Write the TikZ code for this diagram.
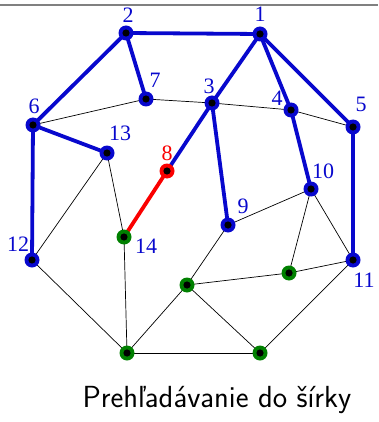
\documentclass[tikz,border=0pt]{standalone}
\usepackage{fontspec}
\newfontfamily\lblfont{Liberation Serif}
\usetikzlibrary{backgrounds}
\definecolor{mblue}{RGB}{8,8,205}
\definecolor{mgreen}{RGB}{0,128,0}
\definecolor{mred}{RGB}{250,0,0}
\begin{document}
\begin{tikzpicture}[x=1pt,y=-1pt,
  vtx/.style={circle,inner sep=0pt,minimum size=15pt,
    path picture={\fill[black] (path picture bounding box.center) circle (3.6pt);}},
  vb/.style={vtx,fill=mblue},
  vg/.style={vtx,fill=mgreen},
  vr/.style={vtx,fill=mred},
  tree/.style={mblue,line width=3.8pt},
  redge/.style={mred,line width=3.8pt},
  thin/.style={black,line width=0.7pt},
  lbl/.style={text=mblue,font=\lblfont\fontsize{22}{22}\selectfont,inner sep=0pt},
]
\useasboundingbox (0,0) rectangle (378,422);
\draw[gray,line width=2pt] (0,5) -- (378,5);

\node[vb] (n1) at (260,34) {};
\node[vb] (n2) at (126,33) {};
\node[vb] (n3) at (212,103) {};
\node[vb] (n4) at (291,110) {};
\node[vb] (n5) at (353,127) {};
\node[vb] (n6) at (33,125) {};
\node[vb] (n7) at (146,99) {};
\node[vr] (n8) at (167,171) {};
\node[vb] (n9) at (228,225) {};
\node[vb] (n10) at (311,189) {};
\node[vb] (n11) at (353,260) {};
\node[vb] (n12) at (32,260) {};
\node[vb] (n13) at (107,153) {};
\node[vg] (n14) at (124,237) {};
\node[vg] (gA) at (289,273) {};
\node[vg] (gB) at (187,285) {};
\node[vg] (gC) at (127,353) {};
\node[vg] (gD) at (260,353) {};

\begin{pgfonlayer}{background}
  \draw[thin] (n6.center) -- (n7.center) -- (n3.center) -- (n4.center) -- (n5.center);
  \draw[thin] (n13.center) -- (n12.center);
  \draw[thin] (n13.center) -- (n14.center);
  \draw[thin] (n14.center) -- (gC.center);
  \draw[thin] (n12.center) -- (gC.center);
  \draw[thin] (n9.center) -- (n10.center);
  \draw[thin] (n9.center) -- (gB.center);
  \draw[thin] (n10.center) -- (gA.center);
  \draw[thin] (n10.center) -- (n11.center);
  \draw[thin] (gA.center) -- (n11.center);
  \draw[thin] (gB.center) -- (gA.center);
  \draw[thin] (gB.center) -- (gC.center);
  \draw[thin] (gB.center) -- (gD.center);
  \draw[thin] (gC.center) -- (gD.center);
  \draw[thin] (gD.center) -- (n11.center);
  \draw[tree] (n2.center) -- (n1.center);
  \draw[tree] (n2.center) -- (n6.center);
  \draw[tree] (n2.center) -- (n7.center);
  \draw[tree] (n1.center) -- (n3.center);
  \draw[tree] (n1.center) -- (n4.center);
  \draw[tree] (n1.center) -- (n5.center);
  \draw[tree] (n6.center) -- (n13.center);
  \draw[tree] (n6.center) -- (n12.center);
  \draw[tree] (n3.center) -- (n8.center);
  \draw[tree] (n3.center) -- (n9.center);
  \draw[tree] (n4.center) -- (n10.center);
  \draw[tree] (n5.center) -- (n11.center);
  \draw[redge] (n8.center) -- (n14.center);
\end{pgfonlayer}

\node[lbl] (l1) at (260,14) {1};
\node[lbl] (l2) at (128,15) {2};
\node[lbl] (l3) at (209,86) {3};
\node[lbl] (l4) at (277,98) {4};
\node[lbl] (l5) at (361,104) {5};
\node[lbl] (l6) at (34,106) {6};
\node[lbl] (l7) at (155,80) {7};
\node[lbl,text=mred] (l8) at (167,153) {8};
\node[lbl] (l9) at (243,206) {9};
\node[lbl] (l10) at (323,171) {10};
\node[lbl] (l11) at (364,280) {11};
\node[lbl] (l12) at (18,244) {12};
\node[lbl] (l13) at (120,133) {13};
\node[lbl] (l14) at (146,246) {14};

\node[anchor=base,inner sep=0pt,font=\sffamily\fontsize{30.5}{30.5}\selectfont] (cap) at (217,407) {Prehľadávanie do šírky};
\end{tikzpicture}
\end{document}
